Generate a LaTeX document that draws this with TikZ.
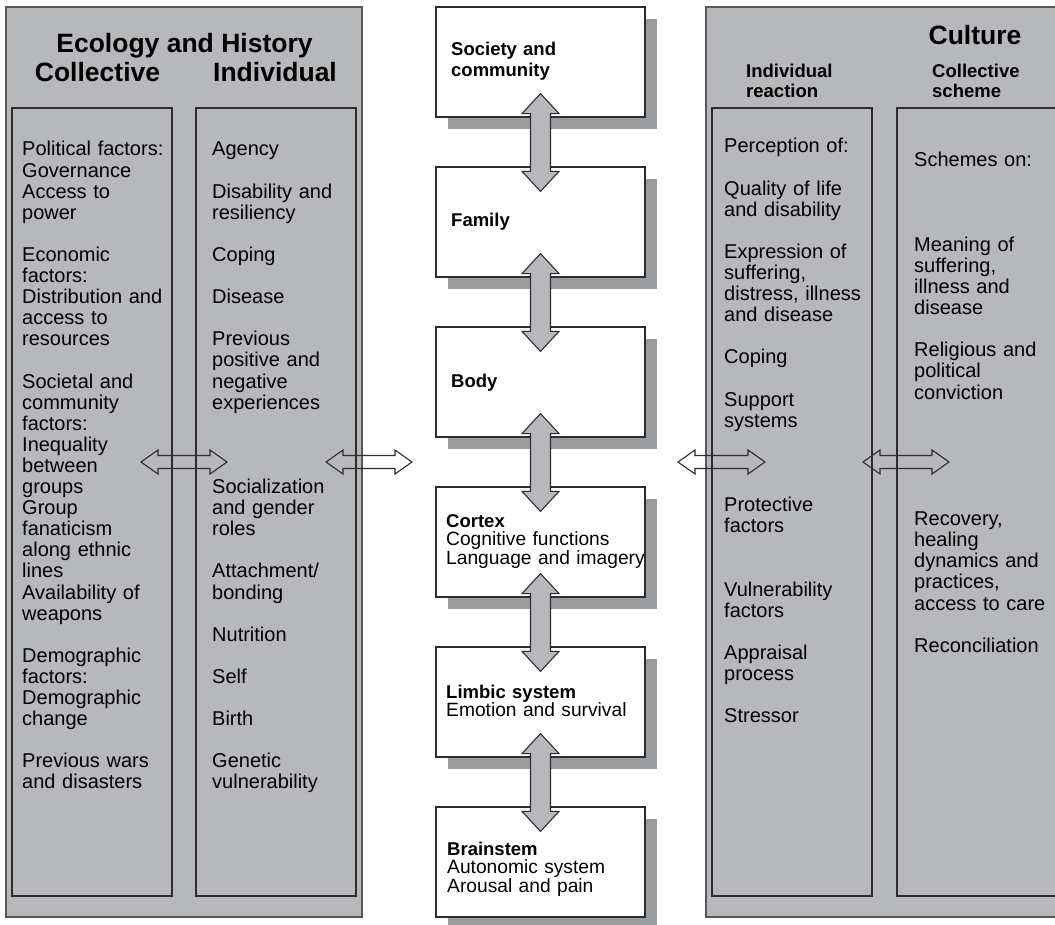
\documentclass[tikz,border=0pt]{standalone}
\usepackage{fontspec}
\setmainfont{Liberation Sans}
\usetikzlibrary{calc,shadows}
\definecolor{panelgray}{RGB}{183,184,187}
\definecolor{shadowgray}{RGB}{155,156,160}
\definecolor{inkgray}{RGB}{45,45,45}
\newlength\lsk \setlength\lsk{21.1pt}
\hyphenpenalty=10000
\exhyphenpenalty=10000

% vertical double block arrow between two stacked boxes
\newcommand{\vlink}[2]{%
  \draw[blockarrow, fill=panelgray]
    let \p1=([yshift=24pt]#1.south), \p2=([yshift=-25pt]#2.north) in
    (\x1,\y1) -- (\x1+18.5pt,\y1-20pt) -- (\x1+10pt,\y1-20pt) -- (\x1+10pt,\y2+20pt)
    -- (\x1+18.5pt,\y2+20pt) -- (\x1,\y2) -- (\x1-18.5pt,\y2+20pt) -- (\x1-10pt,\y2+20pt)
    -- (\x1-10pt,\y1-20pt) -- (\x1-18.5pt,\y1-20pt) -- cycle;}
% horizontal double block arrow (outline only) between two tip points
\newcommand{\hlink}[2]{%
  \draw[blockarrow]
    let \p1=(#1), \p2=(#2) in
    (\x1,\y1) -- (\x1+17pt,\y1+12pt) -- (\x1+17pt,\y1+6.5pt) -- (\x2-17pt,\y1+6.5pt)
    -- (\x2-17pt,\y1+12pt) -- (\x2,\y1) -- (\x2-17pt,\y1-12pt) -- (\x2-17pt,\y1-6.5pt)
    -- (\x1+17pt,\y1-6.5pt) -- (\x1+17pt,\y1-12pt) -- cycle;}

\begin{document}
\begin{tikzpicture}[x=1pt,y=-1pt,
  panel/.style={fill=panelgray, draw=inkgray!80, line width=1.4pt},
  column/.style={draw=inkgray, line width=1.3pt},
  blockarrow/.style={draw=inkgray, line width=1.1pt, line join=miter},
  cbox/.style={draw=inkgray, line width=1.2pt, fill=white, minimum width=209pt,
    minimum height=110pt, inner sep=0,
    drop shadow={shadow xshift=12pt, shadow yshift=-12pt, fill=shadowgray, opacity=1}},
  coltext/.style={anchor=base west, inner sep=0, text width=170pt, align=left,
    font=\fontsize{20}{21.1}\selectfont},
  ctext/.style={anchor=base west, inner sep=0, text width=260pt, align=left,
    font=\fontsize{19.2}{18.8}\selectfont},
  btext/.style={anchor=base west, inner sep=0, text width=200pt, align=left,
    font=\bfseries\fontsize{18.5}{21}\selectfont},
  bighead/.style={anchor=base, inner sep=0, font=\bfseries\fontsize{26.5}{28}\selectfont},
  subhead/.style={anchor=base west, inner sep=0, text width=120pt, align=left,
    font=\bfseries\fontsize{18.5}{20}\selectfont}
]
\useasboundingbox (0,0) rectangle (1055,925);
\clip (0,0) rectangle (1055,925);
\fill[white] (0,0) rectangle (1055,925);

% ---- Ecology and History panel ----
\draw[panel] (6,7) rectangle (362,917);
\draw[column] (12,108) rectangle (172,896);
\draw[column] (196,108) rectangle (356,896);
\node[bighead] (ecohead) at (184.5,53) {Ecology and History};
\node[bighead] (colhead) at (97.5,82) {Collective};
\node[bighead] (indhead) at (275,82) {Individual};

\node[coltext] (coltxt) at (22,156) {Political factors:\\Governance\\Access to\\power\\[\lsk]%
Economic\\factors:\\Distribution and\\access to\\resources\\[\lsk]%
Societal and\\community\\factors:\\Inequality\\between\\groups\\Group\\fanaticism\\along ethnic\\lines\\Availability of\\weapons\\[\lsk]%
Demographic\\factors:\\Demographic\\change\\[\lsk]%
Previous wars\\and disasters};

\node[coltext] (indtxt) at (212,156) {Agency\\[\lsk]Disability and\\resiliency\\[\lsk]%
Coping\\[\lsk]Disease\\[\lsk]Previous\\positive and\\negative\\experiences\\[3\lsk]%
Socialization\\and gender\\roles\\[\lsk]Attachment/\\bonding\\[\lsk]Nutrition\\[\lsk]%
Self\\[\lsk]Birth\\[\lsk]Genetic\\vulnerability};

% ---- Culture panel ----
\draw[panel] (706,7) rectangle (1075,917);
\draw[column] (712,108) rectangle (872,896);
\draw[column] (897,108) rectangle (1075,896);
\node[bighead] (culhead) at (975,45) {Culture};
\node[subhead] (reachead) at (746,78) {Individual\\reaction};
\node[subhead] (schhead) at (932,78) {Collective\\scheme};

\node[coltext] (reactxt) at (724,153) {Perception of:\\[\lsk]Quality of life\\and disability\\[\lsk]%
Expression of\\suffering,\\distress, illness\\and disease\\[\lsk]Coping\\[\lsk]%
Support\\systems\\[3\lsk]Protective\\factors\\[2\lsk]Vulnerability\\factors\\[\lsk]%
Appraisal\\process\\[\lsk]Stressor};

\node[coltext] (schtxt) at (914,167) {Schemes on:\\[3\lsk]Meaning of\\suffering,\\illness and\\disease\\[\lsk]%
Religious and\\political\\conviction\\[5\lsk]Recovery,\\healing\\dynamics and\\practices,\\access to care\\[\lsk]%
Reconciliation};

% ---- horizontal links ----
\coordinate (h1a) at (141,462); \coordinate (h1b) at (227,462);
\coordinate (h2a) at (326,462); \coordinate (h2b) at (412,462);
\coordinate (h3a) at (678,462); \coordinate (h3b) at (765,462);
\coordinate (h4a) at (863,462); \coordinate (h4b) at (949,462);
\hlink{h1a}{h1b}
\hlink{h2a}{h2b}
\hlink{h3a}{h3b}
\hlink{h4a}{h4b}

% ---- central stack of levels ----
\node[cbox] (soc) at (540.5,62) {};
\node[cbox] (fam) at (540.5,222) {};
\node[cbox] (body) at (540.5,382) {};
\node[cbox] (cortex) at (540.5,542) {};
\node[cbox] (limbic) at (540.5,702) {};
\node[cbox] (brain) at (540.5,862) {};

\node[btext] (soctxt) at (451,56) {Society and\\community};
\node[btext] (famtxt) at (451,227) {Family};
\node[btext] (bodytxt) at (451,387) {Body};
\node[ctext] (cortxt) at (446,527) {\textbf{\fontsize{18.5}{18.8}\selectfont Cortex}\\Cognitive functions\\Language and imagery};
\node[ctext] (limtxt) at (446,698) {\textbf{\fontsize{18.5}{18.8}\selectfont Limbic system}\\Emotion and survival};
\node[ctext] (braintxt) at (447,855) {\textbf{\fontsize{18.5}{18.8}\selectfont Brainstem}\\Autonomic system\\Arousal and pain};

\vlink{soc}{fam}
\vlink{fam}{body}
\vlink{body}{cortex}
\vlink{cortex}{limbic}
\vlink{limbic}{brain}
\end{tikzpicture}
\end{document}
